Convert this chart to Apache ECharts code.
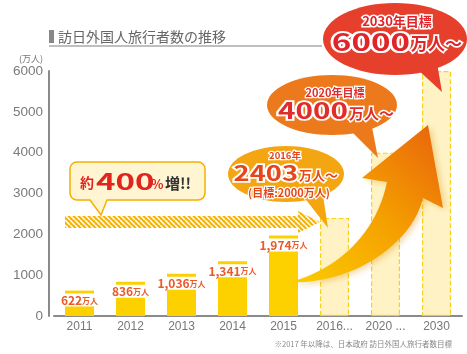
<!DOCTYPE html>
<html lang="ja">
<head>
<meta charset="UTF-8">
<title>訪日外国人旅行者数の推移</title>
<script src="https://cdn.jsdelivr.net/npm/echarts@6/dist/echarts.min.js"></script>
<style>
  html, body { margin: 0; padding: 0; background: #fff; }
  #chart { width: 467px; height: 354px; }
</style>
</head>
<body>
<div id="chart"></div>
<script>
// 年（カテゴリ）
var years = ['2011', '2012', '2013', '2014', '2015', '2016...', '2020 ...', '2030'];
// 実績（万人）
var actual = [622, 836, 1036, 1341, 1974, '-', '-', '-'];
// 目標・見込み（万人）
var targets = ['-', '-', '-', '-', '-', 2403, 4000, 6000];
var yMax = 6000;
var yStep = 1000;

var JP = '"Noto Sans CJK JP", sans-serif';

// 斜線パターン
function stripes() {
    var c = document.createElement('canvas');
    c.width = 5; c.height = 5;
    var g = c.getContext('2d');
    g.fillStyle = '#f6b300';
    g.fillRect(0, 0, 5, 5);
    g.strokeStyle = '#fff';
    g.lineWidth = 1.5;
    for (var k = -5; k <= 5; k += 5) {
        g.beginPath(); g.moveTo(k, 0); g.lineTo(k + 5, 5); g.stroke();
    }
    return c;
}

// 3次ベジェを点列にする
function bez(p0, p1, p2, p3, n) {
    var pts = [];
    for (var i = 0; i <= n; i++) {
        var t = i / n, u = 1 - t;
        pts.push([
            u * u * u * p0[0] + 3 * u * u * t * p1[0] + 3 * u * t * t * p2[0] + t * t * t * p3[0],
            u * u * u * p0[1] + 3 * u * u * t * p1[1] + 3 * u * t * t * p2[1] + t * t * t * p3[1]
        ]);
    }
    return pts;
}

// 大きな矢印の輪郭
var arrowPts = bez([290, 282], [330, 272], [375, 240], [387, 182], 24)
    .concat([[362, 178], [428, 125], [443, 208]])
    .concat(bez([423, 198], [412, 245], [350, 285], [290, 282], 24));

// 吹き出しの文字
function txt(x, y, s, size, color, align, opt) {
    opt = opt || {};
    return {
        type: 'text', x: x, y: y, z: 30, scaleX: opt.sx || 1,
        style: {
            text: s, fontSize: size, fontWeight: 'bold', fontFamily: JP,
            fill: color, stroke: opt.stroke || null, lineWidth: opt.lw || 0,
            align: align, textAlign: align,
            verticalAlign: 'middle', textVerticalAlign: 'middle'
        }
    };
}

var myChart = echarts.init(document.getElementById('chart'));
myChart.setOption({
    animation: false,
    title: {
        text: '訪日外国人旅行者数の推移',
        left: 58, top: 30, padding: 0,
        textStyle: { fontSize: 14, color: '#666', fontWeight: 'normal', fontFamily: JP }
    },
    grid: { left: 54, right: 5, top: 71, bottom: 38 },
    xAxis: {
        type: 'category',
        data: years,
        axisLine: { lineStyle: { color: '#8a8a8a', width: 2 } },
        axisTick: { show: false },
        axisLabel: { color: '#777', fontSize: 12, margin: 5, interval: 0, fontFamily: 'Liberation Sans' }
    },
    yAxis: {
        type: 'value',
        min: 0, max: yMax, interval: yStep,
        offset: 5,
        name: '(万人)',
        nameLocation: 'end',
        nameGap: 8,
        nameTextStyle: { fontSize: 9, color: '#777', align: 'right', padding: [0, 6, 0, 0], fontFamily: JP },
        axisLine: { show: true, lineStyle: { color: '#8a8a8a', width: 2 } },
        axisTick: { show: false },
        splitLine: { show: false },
        axisLabel: {
            color: '#7a7a7a', fontSize: 13.5, margin: 6, fontFamily: 'Liberation Sans',
            formatter: function (v) { return String(v); }
        }
    },
    series: [
        {
            name: '実績',
            type: 'bar',
            data: actual,
            barWidth: 29,
            barGap: '-100%',
            itemStyle: { color: '#fdd000' },
            label: {
                show: true,
                position: 'insideTop',
                distance: 3,
                backgroundColor: '#fff',
                padding: [1, 1, 0, 1],
                formatter: function (p) {
                    return '{n|' + p.value.toLocaleString('en-US') + '}{u|万人}';
                },
                rich: {
                    n: { fontSize: 12, fontWeight: 'bold', color: '#ea5a26', fontFamily: JP },
                    u: { fontSize: 8, fontWeight: 'bold', color: '#ea5a26', fontFamily: JP }
                }
            }
        },
        {
            name: '目標',
            type: 'bar',
            data: targets,
            barWidth: 29,
            itemStyle: { color: '#fff3c6', borderColor: '#f6d21c', borderType: 'dashed', borderWidth: 1.2 }
        }
    ],
    graphic: [
        // タイトル飾り
        { type: 'rect', z: 5, shape: { x: 49, y: 30, width: 5, height: 13 }, style: { fill: '#888' } },
        { type: 'line', z: 5, shape: { x1: 49, y1: 46, x2: 322, y2: 46 }, style: { stroke: '#aaa', lineWidth: 1.5 } },
        // 注記
        {
            type: 'text', x: 452, y: 344, z: 5,
            style: { text: '※2017 年以降は、日本政府 訪日外国人旅行者数目標', fontSize: 7.5, fill: '#888', fontFamily: JP,
                     align: 'right', textAlign: 'right', verticalAlign: 'middle', textVerticalAlign: 'middle' }
        },
        // 斜線の矢印
        {
            type: 'polygon', z: 10,
            shape: { points: [[65, 216], [298, 216], [298, 211], [320, 222], [298, 233], [298, 228], [65, 228]] },
            style: { fill: { image: stripes(), repeat: 'repeat' } }
        },
        // 約400%増
        {
            type: 'rect', z: 12,
            shape: { x: 70, y: 162, width: 135, height: 38, r: 7 },
            style: { fill: '#fff5d3', stroke: '#f5b000', lineWidth: 1.5 }
        },
        { type: 'polygon', z: 13, shape: { points: [[90, 198.5], [101, 215], [107, 198.5]] }, style: { fill: '#fff5d3' } },
        { type: 'polyline', z: 13, shape: { points: [[90, 200], [101, 215], [107, 200]] }, style: { stroke: '#f5b000', lineWidth: 1.5, fill: null } },
        txt(94, 183, '約', 14, '#e2241f', 'right'),
        txt(96, 182, '400', 22, '#e2241f', 'left', { sx: 1.5 }),
        txt(151, 184, '%', 13, '#e2241f', 'left'),
        txt(165, 183, '増!!', 15, '#333', 'left'),
        // 大きな矢印
        {
            type: 'polygon', z: 14,
            shape: { points: arrowPts },
            style: {
                fill: {
                    type: 'linear', x: 0, y: 1, x2: 1, y2: 0,
                    colorStops: [
                        { offset: 0, color: '#fbcd00' },
                        { offset: 0.5, color: '#f5a000' },
                        { offset: 1, color: '#e8620c' }
                    ]
                },
                shadowBlur: 6, shadowColor: 'rgba(220,140,0,0.35)', shadowOffsetX: 3, shadowOffsetY: 2
            }
        },
        // 2016年 吹き出し
        { type: 'polygon', z: 16, shape: { points: [[303, 196], [322, 189], [328, 228]] }, style: { fill: '#f4a612' } },
        { type: 'ellipse', z: 16, shape: { cx: 286, cy: 174, rx: 58, ry: 28 }, style: { fill: '#f4a612' } },
        txt(285, 155, '2016年', 9.5, '#e6461c', 'center', { stroke: '#fff', lw: 2.5 }),
        txt(298, 173, '2403', 21, '#e6461c', 'right', { sx: 1.3, stroke: '#fff', lw: 3.5 }),
        txt(299, 175, '万人〜', 13, '#e6461c', 'left', { stroke: '#fff', lw: 3 }),
        txt(289, 193, '(目標:2000万人)', 11, '#e6461c', 'center', { stroke: '#fff', lw: 2.5 }),
        // 2020年 吹き出し
        { type: 'polygon', z: 18, shape: { points: [[350, 130], [372, 127], [378, 158]] }, style: { fill: '#ec7a1c' } },
        { type: 'ellipse', z: 18, shape: { cx: 332, cy: 105, rx: 65, ry: 30 }, style: { fill: '#ec7a1c' } },
        txt(335, 93, '2020年目標', 11, '#e02c2c', 'center', { stroke: '#fff', lw: 2.5 }),
        txt(348, 111, '4000', 22, '#e02c2c', 'right', { sx: 1.35, stroke: '#fff', lw: 3.5 }),
        txt(349, 113, '万人〜', 15, '#e02c2c', 'left', { stroke: '#fff', lw: 3 }),
        // 2030年 吹き出し
        { type: 'polygon', z: 20, shape: { points: [[416, 68], [437, 63], [442, 92]] }, style: { fill: '#e6402c' } },
        { type: 'ellipse', z: 20, shape: { cx: 395, cy: 39, rx: 72, ry: 36 }, style: { fill: '#e6402c' } },
        txt(397, 21, '2030年目標', 13, '#e0242a', 'center', { stroke: '#fff', lw: 3 }),
        txt(410, 42, '6000', 24, '#e0242a', 'right', { sx: 1.38, stroke: '#fff', lw: 4 }),
        txt(411, 44, '万人〜', 17, '#e0242a', 'left', { stroke: '#fff', lw: 3.5 })
    ]
});
</script>
</body>
</html>
